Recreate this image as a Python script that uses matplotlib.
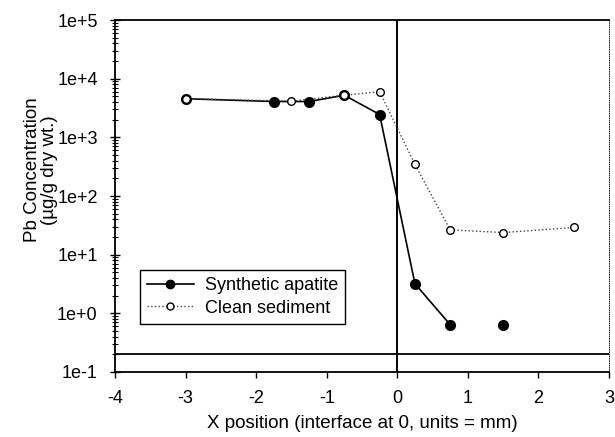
import numpy as np
import matplotlib
matplotlib.use("Agg")
import matplotlib.pyplot as plt
from matplotlib.ticker import LogLocator, FixedLocator

plt.rcParams['font.family'] = ['Liberation Sans', 'DejaVu Sans']

# Data
apatite_x = [-3.0, -1.75, -1.25, -0.75, -0.25, 0.25, 0.75, 1.5]
apatite_y = [4550, 4080, 4080, 5220, 2450, 3.2, 0.64, 0.64]
apatite_connected = 7  # last point is not joined by a line

sediment_x = [-3.0, -1.5, -0.75, -0.25, 0.25, 0.75, 1.5, 2.5]
sediment_y = [4550, 4140, 5220, 5990, 345, 26.5, 23.8, 29.1]

detection_limit = 0.2
interface_x = 0.0

xticks = [-4, -3, -2, -1, 0, 1, 2, 3]
yticks = [1e-1, 1e0, 1e1, 1e2, 1e3, 1e4, 1e5]
ytick_labels = ["1e-1", "1e+0", "1e+1", "1e+2", "1e+3", "1e+4", "1e+5"]

fig = plt.figure(figsize=(6.15, 4.37), dpi=100)
ax = fig.add_axes([115/615, 1-372/437, (609-115)/615, (372-20)/437])

ax.set_yscale('log')
ax.set_xlim(-4, 3)
ax.set_ylim(1e-1, 1e5)

ax.axhline(detection_limit, color='black', lw=1.3, zorder=2)
ax.axvline(interface_x, color='black', lw=1.4, zorder=2)

# synthetic apatite
ax.plot(apatite_x[:apatite_connected], apatite_y[:apatite_connected], '-', color='black', lw=1.2, zorder=3)
ax.plot(apatite_x, apatite_y, 'o', color='black', ms=7, zorder=4)
# clean sediment
ax.plot(sediment_x, sediment_y, ':', color='#444444', lw=1.0, zorder=3)
ax.plot(sediment_x, sediment_y, 'o', mfc='white', mec='black', mew=1.0, ms=5.5, zorder=5)

# legend proxies
h1, = ax.plot([], [], '-o', color='black', lw=1.2, ms=6)
h2, = ax.plot([], [], ':o', color='#444444', mfc='white', mec='black', mew=1.0, lw=1.0, ms=5)
leg = ax.legend([h1, h2], ["Synthetic apatite", "Clean sediment"],
                loc='lower left', bbox_to_anchor=(0.05, 0.137), borderaxespad=0,
                fancybox=False, framealpha=1, edgecolor='black', fontsize=13,
                handlelength=2.6, handletextpad=0.6, borderpad=0.4, labelspacing=0.3)
leg.get_frame().set_linewidth(1.0)

ax.xaxis.set_major_locator(FixedLocator(xticks))
ax.set_xticklabels([str(t) for t in xticks], fontsize=13)
ax.yaxis.set_major_locator(FixedLocator(yticks))
ax.set_yticklabels(ytick_labels, fontsize=13)
ax.yaxis.set_minor_locator(LogLocator(base=10, subs=np.arange(2, 10)))
ax.yaxis.set_minor_formatter(plt.NullFormatter())

ax.tick_params(axis='y', which='major', direction='inout', length=7, width=1, left=True, right=False, pad=9)
ax.tick_params(axis='y', which='minor', direction='inout', length=4, width=0.8, left=True, right=False)
ax.tick_params(axis='x', which='major', direction='out', length=4, width=1, top=False, pad=9)

for s in ['left', 'bottom', 'top']:
    ax.spines[s].set_linewidth(1.3)
ax.spines['right'].set_linewidth(0.6)
ax.spines['right'].set_linestyle(':')

ax.set_xlabel("X position (interface at 0, units = mm)", fontsize=13.5, labelpad=6)
fig.text(0.066, 1 - 170/437, "Pb Concentration\n(µg/g dry wt.)", rotation=90,
         ha='center', va='center', fontsize=13.5, linespacing=1.0)

fig.savefig("out.png", dpi=100)
